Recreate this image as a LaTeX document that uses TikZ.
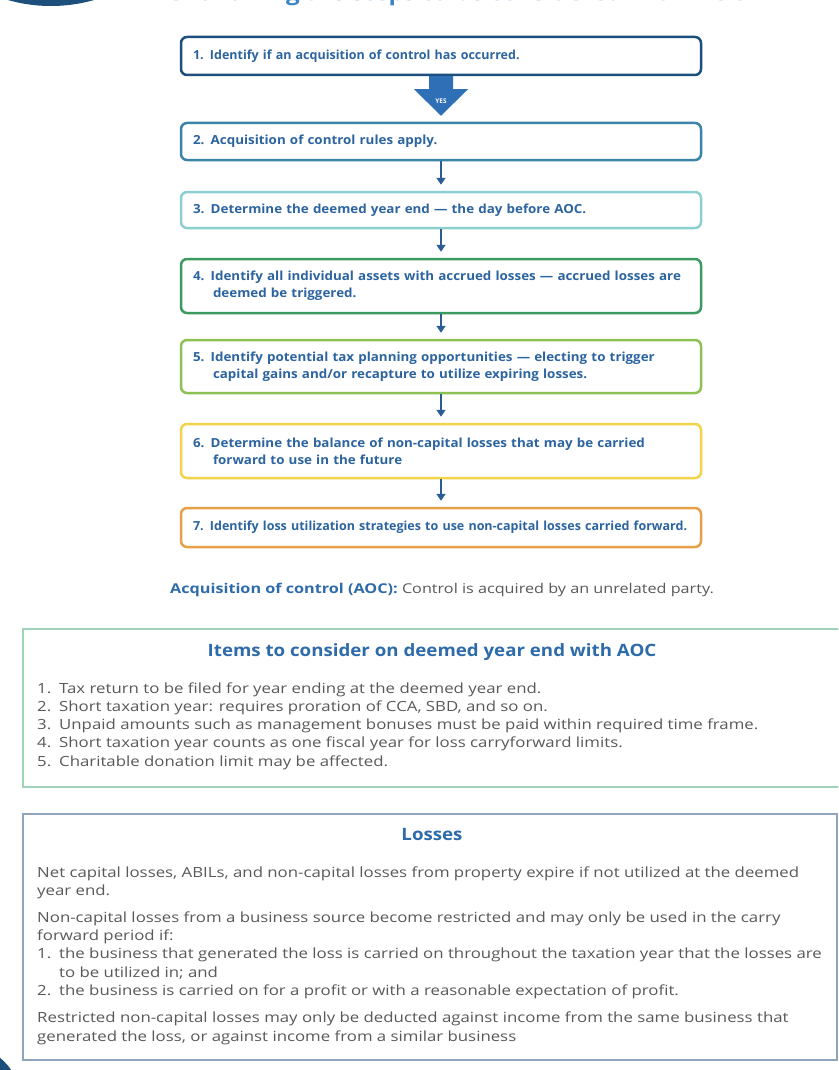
\documentclass[tikz,border=0pt]{standalone}
\usepackage{fontspec}
\setmainfont{Open Sans}
\newfontfamily\bodyfont{Open Sans}[FakeStretch=1.2]
\newfontfamily\boxfont{Open Sans}[FakeStretch=1.07]
\newfontfamily\headfont{Open Sans}[FakeStretch=1.1]
\usetikzlibrary{arrows.meta,calc}
\definecolor{navy}{HTML}{1D4F7C}
\definecolor{boxtext}{HTML}{2C64A0}
\definecolor{titleblue}{HTML}{2E6BAA}
\definecolor{yesblue}{HTML}{2F6FB5}
\definecolor{arrowblue}{HTML}{2B5D93}
\definecolor{ctwo}{HTML}{3A84A8}
\definecolor{cthree}{HTML}{8CCFCF}
\definecolor{cfour}{HTML}{3C9A60}
\definecolor{cfive}{HTML}{8DC153}
\definecolor{csix}{HTML}{F2D34A}
\definecolor{cseven}{HTML}{E8A048}
\definecolor{itemsborder}{HTML}{9FD4B8}
\definecolor{lossborder}{HTML}{8EA5BD}
\definecolor{bodygray}{HTML}{58595B}
\definecolor{toptitle}{HTML}{3A86C8}
\tikzset{
  stepbox/.style={draw, rounded corners=6pt, line width=2.5pt, minimum width=520pt,
    text width=496pt, inner xsep=12pt, inner ysep=0pt, align=left, fill=white,
    font=\boxfont\bfseries\fontsize{12.5}{17}\selectfont, text=boxtext},
  narrowstep/.style={font=\bfseries\fontsize{12.5}{17}\selectfont},
  smallarrow/.style={draw=arrowblue, line width=2pt, -{Triangle[width=9pt,length=7pt]}, shorten >=6pt},
  bodytext/.style={anchor=base west, inner sep=0pt, text=bodygray, font=\bodyfont\fontsize{14}{18}\selectfont},
  headtext/.style={anchor=base, inner sep=0pt, text=titleblue, font=\headfont\bfseries\fontsize{17}{20}\selectfont},
  panel/.style={anchor=north west, inner sep=0pt, fill=white}
}
\begin{document}
\begin{tikzpicture}[x=1pt,y=-1pt]
\useasboundingbox (0,0) rectangle (838,1070);
\clip (0,0) rectangle (838,1070);
\fill[white] (0,0) rectangle (838,1070);
% cut-off decorations
\fill[navy] (51,-151) circle (157);
\fill[navy] (-40,1105) circle (62);
\node[anchor=base, inner sep=0pt, text=toptitle, font=\headfont\bfseries\fontsize{22}{24}\selectfont] (toptitle) at (442,1) {The following are steps to be considered in an AOC};
% steps
\node[stepbox, narrowstep, draw=navy, minimum height=38pt, text depth=2pt] (b1) at (441,56) {1. Identify if an acquisition of control has occurred.};
\node[stepbox, draw=ctwo, minimum height=37pt] (b2) at (441,141.5) {2. Acquisition of control rules apply.};
\node[stepbox, draw=cthree, minimum height=36pt] (b3) at (441,210) {3. Determine the deemed year end — the day before AOC.};
\node[stepbox, draw=cfour, minimum height=54pt] (b4) at (441,286) {4. Identify all individual assets with accrued losses — accrued losses are\\\hspace*{20pt}deemed be triggered.};
\node[stepbox, draw=cfive, minimum height=53pt] (b5) at (441,366.5) {5. Identify potential tax planning opportunities — electing to trigger\\\hspace*{20pt}capital gains and/or recapture to utilize expiring losses.};
\node[stepbox, draw=csix, minimum height=54pt] (b6) at (441,451) {6. Determine the balance of non-capital losses that may be carried\\\hspace*{20pt}forward to use in the future};
\node[stepbox, narrowstep, draw=cseven, minimum height=39pt] (b7) at (441,527.5) {7. Identify loss utilization strategies to use non-capital losses carried forward.};
% YES arrow
\fill[yesblue] ($(b1.south)+(-12,0)$) -- ($(b1.south)+(12,0)$) -- ($(b1.south)+(12,13)$) -- ($(b1.south)+(27,13)$)
  -- ($(b2.north)+(0,-6)$) -- ($(b1.south)+(-27,13)$) -- ($(b1.south)+(-12,13)$) -- cycle;
\node[inner sep=0pt, text=white, font=\bfseries\fontsize{6.5}{7}\selectfont] (yes) at ($(b1.south)+(0,25)$) {YES};
\draw[smallarrow] (b2) -- (b3);
\draw[smallarrow] (b3) -- (b4);
\draw[smallarrow] (b4) -- (b5);
\draw[smallarrow] (b5) -- (b6);
\draw[smallarrow] (b6) -- (b7);
% definition
\node[anchor=base, inner sep=0pt, font=\bodyfont\fontsize{13.5}{16}\selectfont, text=bodygray] (aoc) at (442,593) {\textcolor{titleblue}{\bfseries Acquisition of control (AOC):} Control is acquired by an unrelated party.};
% items panel
\node[panel, draw=itemsborder, line width=2pt, minimum width=830pt, minimum height=158pt] (items) at (22,628) {};
\node[headtext] (itemshead) at (432,656) {Items to consider on deemed year end with AOC};
\node[bodytext] (n1) at (37,693) {1.};
\node[bodytext] (i1) at (59,693) {Tax return to be filed for year ending at the deemed year end.};
\node[bodytext] (n2) at (37,711) {2.};
\node[bodytext] (i2) at (59,711) {Short taxation year: requires proration of CCA, SBD, and so on.};
\node[bodytext] (n3) at (37,729) {3.};
\node[bodytext] (i3) at (59,729) {Unpaid amounts such as management bonuses must be paid within required time frame.};
\node[bodytext] (n4) at (37,747) {4.};
\node[bodytext] (i4) at (59,747) {Short taxation year counts as one fiscal year for loss carryforward limits.};
\node[bodytext] (n5) at (37,766) {5.};
\node[bodytext] (i5) at (59,766) {Charitable donation limit may be affected.};
% losses panel
\node[panel, draw=lossborder, line width=1.5pt, minimum width=814pt, minimum height=246pt] (losses) at (22,813) {};
\node[headtext] (losshead) at (432,840) {Losses};
\node[bodytext] (l1) at (37,877) {Net capital losses, ABILs, and non-capital losses from property expire if not utilized at the deemed};
\node[bodytext] (l2) at (37,895) {year end.};
\node[bodytext] (l3) at (37,922) {Non-capital losses from a business source become restricted and may only be used in the carry};
\node[bodytext] (l4) at (37,940) {forward period if:};
\node[bodytext] (ln1) at (37,958) {1.};
\node[bodytext] (l5) at (59,958) {the business that generated the loss is carried on throughout the taxation year that the losses are};
\node[bodytext] (l6) at (59,977) {to be utilized in; and};
\node[bodytext] (ln2) at (37,995) {2.};
\node[bodytext] (l7) at (59,995) {the business is carried on for a profit or with a reasonable expectation of profit.};
\node[bodytext] (l8) at (37,1022) {Restricted non-capital losses may only be deducted against income from the same business that};
\node[bodytext] (l9) at (37,1041) {generated the loss, or against income from a similar business};
\end{tikzpicture}
\end{document}
